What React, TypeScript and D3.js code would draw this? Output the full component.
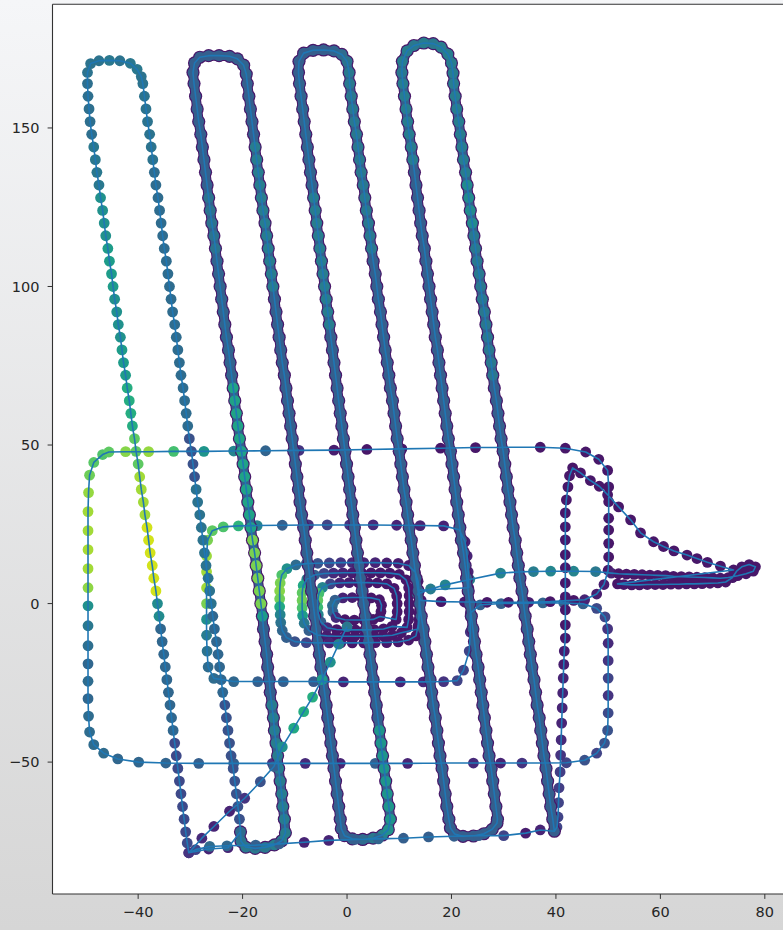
import React from "react";
import * as d3 from "d3";

// ---- data ----

const xTicks = [-40, -20, 0, 20, 40, 60, 80];
const yTicks = [-50, 0, 50, 100, 150];

// y levels at which the lawnmower legs were read
const legLevels = [-68, -64, -60, -56, -52, -48, -44, -40, -36, -32, -28, -24, -20, -16, -12, -8, -4, 0,
  4, 8, 12, 16, 20, 24, 28, 32, 36, 40, 44, 48, 52, 56, 60, 64, 68, 72, 76, 80, 84, 88, 92, 96, 100,
  104, 108, 112, 116, 120, 124, 128, 132, 136, 140, 144, 148, 152, 156, 160, 164];

const leg1X = [-31.2, -31.5, -31.8, -32.1, -32.4, -32.7, -33.0, -33.3, -33.6, -33.9, -34.2, -34.5, -34.8, -35.1, -35.4, -35.7, -36.0, -36.3,
  -36.6, -37.0, -37.3, -37.7, -38.0, -38.3, -38.7, -39.0, -39.4, -39.7, -40.0, -40.4, -40.7, -41.1, -41.4, -41.7, -42.1, -42.4, -42.8, -43.1,
  -43.4, -43.8, -44.1, -44.5, -44.8, -45.1, -45.5, -45.8, -46.2, -46.5, -46.8, -47.2, -47.5, -47.9, -48.2, -48.5, -48.9, -49.2, -49.4, -49.6, -49.7];
const leg2X = [-20.6, -20.9, -21.2, -21.5, -21.8, -22.2, -22.5, -22.8, -23.1, -23.4, -23.8, -24.1, -24.4, -24.7, -25.0, -25.4, -25.7, -26.0,
  -26.3, -26.6, -27.0, -27.3, -27.6, -27.9, -28.2, -28.6, -28.9, -29.2, -29.5, -29.8, -30.2, -30.5, -30.8, -31.1, -31.4, -31.8, -32.1, -32.4,
  -32.7, -33.0, -33.4, -33.7, -34.0, -34.3, -34.6, -35.0, -35.3, -35.6, -35.9, -36.2, -36.6, -36.9, -37.2, -37.5, -37.8, -38.2, -38.5, -38.8, -39.1];
const leg3X = [-12.0, -12.3, -12.5, -12.8, -13.1, -13.3, -13.6, -13.9, -14.1, -14.4, -14.7, -14.9, -15.2, -15.4, -15.7, -16.0, -16.2, -16.5,
  -16.8, -17.1, -17.4, -17.7, -18.1, -18.4, -18.7, -19.0, -19.3, -19.6, -19.9, -20.2, -20.6, -20.9, -21.2, -21.5, -21.8, -22.1, -22.4, -22.7,
  -23.1, -23.4, -23.7, -24.0, -24.3, -24.6, -24.9, -25.2, -25.5, -25.9, -26.2, -26.5, -26.8, -27.1, -27.4, -27.7, -28.0, -28.4, -28.7, -29.0, -29.3];
const leg4X = [-1.3, -1.6, -1.9, -2.2, -2.5, -2.8, -3.1, -3.4, -3.7, -4.0, -4.3, -4.6, -5.0, -5.3, -5.6, -5.9, -6.2, -6.5,
  -6.8, -7.1, -7.4, -7.7, -8.0, -8.3, -8.7, -9.0, -9.3, -9.6, -9.9, -10.2, -10.5, -10.8, -11.1, -11.4, -11.7, -12.0, -12.4, -12.7,
  -13.0, -13.3, -13.6, -13.9, -14.2, -14.5, -14.8, -15.1, -15.4, -15.7, -16.1, -16.4, -16.7, -17.0, -17.3, -17.6, -17.9, -18.2, -18.5, -18.8, -19.1];
const leg5X = [8.3, 8.0, 7.7, 7.4, 7.1, 6.8, 6.5, 6.2, 5.9, 5.6, 5.3, 5.0, 4.7, 4.4, 4.1, 3.8, 3.5, 3.2,
  2.9, 2.6, 2.3, 2.0, 1.7, 1.4, 1.1, 0.8, 0.5, 0.2, -0.1, -0.4, -0.7, -1.0, -1.3, -1.6, -1.9, -2.2, -2.5, -2.8,
  -3.1, -3.4, -3.7, -4.0, -4.3, -4.6, -4.9, -5.2, -5.5, -5.8, -6.1, -6.4, -6.7, -7.0, -7.3, -7.6, -7.9, -8.2, -8.5, -8.8, -9.1];
const leg6X = [19.5, 19.1, 18.8, 18.5, 18.2, 17.8, 17.5, 17.2, 16.9, 16.5, 16.2, 15.9, 15.5, 15.2, 14.9, 14.6, 14.2, 13.9,
  13.6, 13.2, 12.9, 12.6, 12.3, 11.9, 11.6, 11.3, 10.9, 10.6, 10.3, 10.0, 9.6, 9.3, 9.0, 8.7, 8.3, 8.0, 7.7, 7.3,
  7.0, 6.7, 6.4, 6.0, 5.7, 5.4, 5.0, 4.7, 4.4, 4.1, 3.7, 3.4, 3.1, 2.7, 2.4, 2.1, 1.8, 1.4, 1.1, 0.8, 0.5];
const leg7X = [28.8, 28.5, 28.2, 27.9, 27.6, 27.2, 26.9, 26.6, 26.3, 26.0, 25.7, 25.4, 25.1, 24.7, 24.4, 24.1, 23.8, 23.5,
  23.2, 22.9, 22.6, 22.3, 21.9, 21.6, 21.3, 21.0, 20.7, 20.4, 20.1, 19.8, 19.4, 19.1, 18.8, 18.5, 18.2, 17.9, 17.6, 17.3,
  16.9, 16.6, 16.3, 16.0, 15.7, 15.4, 15.1, 14.8, 14.4, 14.1, 13.8, 13.5, 13.2, 12.9, 12.6, 12.3, 11.9, 11.6, 11.3, 11.0, 10.7];
const leg8X = [39.4, 39.0, 38.7, 38.4, 38.1, 37.7, 37.4, 37.1, 36.8, 36.4, 36.1, 35.8, 35.4, 35.1, 34.8, 34.5, 34.1, 33.8,
  33.5, 33.1, 32.8, 32.5, 32.2, 31.8, 31.5, 31.2, 30.8, 30.5, 30.2, 29.9, 29.5, 29.2, 28.9, 28.6, 28.2, 27.9, 27.6, 27.2,
  26.9, 26.6, 26.3, 25.9, 25.6, 25.3, 24.9, 24.6, 24.3, 24.0, 23.6, 23.3, 23.0, 22.7, 22.3, 22.0, 21.7, 21.4, 21.0, 20.7, 20.4];

// colour value of each leg, by the y from which it holds
const leg1Zones = [[-90, 0.22], [-42, 0.33], [-6, 0.48], [2, 0.93], [28, 0.86], [44, 0.75], [56, 0.62], [72, 0.55], [84, 0.5], [100, 0.55], [116, 0.5], [132, 0.4], [148, 0.36]];
const leg2Zones = [[-90, 0.25], [-30, 0.33], [0, 0.38], [40, 0.25], [56, 0.35], [140, 0.38]];
const leg3Zones = [[-90, 0.42], [-30, 0.3], [-4, 0.55], [0, 0.8], [22, 0.58], [70, 0.32], [110, 0.38], [130, 0.3]];
const leg4Zones = [[-90, 0.3], [100, 0.42], [145, 0.3]];
const leg5Zones = [[-90, 0.52], [-38, 0.3], [85, 0.42], [130, 0.32]];
const leg6Zones = [[-90, 0.3], [110, 0.4]];
const leg7Zones = [[-90, 0.3], [140, 0.42]];
const leg8Zones = [[-90, 0.3], [70, 0.4], [120, 0.48], [135, 0.42]];
const darkPassC = 0.06;

const leg1Foot = [[-30.6, -75.5], [-30.9, -72]];
const leg8Foot = [[39.7, -71.8]];

const u1Top = [[-49.7, 167.5, 0.38], [-49.1, 170.3, 0.38], [-47.5, 171.2, 0.38], [-45.5, 171.3, 0.4], [-43.5, 171.2, 0.38], [-41.5, 170.4, 0.4], [-40.2, 168.5, 0.4], [-39.4, 166.2, 0.38]];
const u2Top = [[-29.5, 167.5, 0.3], [-29.2, 170.5, 0.3], [-28.2, 172.3, 0.3], [-26.5, 172.8, 0.3], [-24.5, 172.8, 0.3], [-22.5, 172.6, 0.3], [-21, 171.8, 0.3], [-19.8, 169.8, 0.32], [-19.3, 167, 0.32]];
const u3Top = [[-9.3, 167.5, 0.3], [-9.2, 171, 0.3], [-8.3, 173.6, 0.3], [-6.5, 174.5, 0.3], [-4.5, 174.6, 0.3], [-2.5, 174.3, 0.32], [-1, 173.2, 0.35], [0, 171, 0.38], [0.4, 167.5, 0.4]];
const u4Top = [[10.5, 167.5, 0.4], [10.6, 171, 0.42], [11.5, 174.3, 0.42], [12.8, 176, 0.4], [14.7, 176.8, 0.42], [16.5, 176.6, 0.4], [18, 175.5, 0.42], [19.3, 173.3, 0.42], [20, 170.5, 0.42], [20.3, 167.3, 0.42]];
const b23 = [[-20.4, -72, 0.35], [-20.3, -75, 0.38], [-19.4, -76.8, 0.4], [-17.6, -77.2, 0.4], [-15.7, -76.9, 0.4], [-13.9, -76.1, 0.42], [-12.5, -74.8, 0.42], [-11.8, -72.3, 0.42]];
const b45 = [[-1.1, -71, 0.3], [-0.5, -73.2, 0.32], [1, -74.2, 0.32], [3, -74.4, 0.35], [5, -74, 0.4], [6.8, -73, 0.45], [7.9, -71.3, 0.5]];
const b67 = [[19.8, -70.8, 0.3], [20.6, -72.7, 0.3], [22.2, -73.4, 0.3], [24.2, -73.3, 0.3], [26.2, -72.6, 0.3], [27.8, -71.2, 0.3], [28.7, -69.3, 0.3]];

// small loops round the centre
const loop0 = [[6.5, -2.5, 0.06], [6.6, -0.5, 0.06], [6.2, 1.2, 0.06], [4.6, 1.8, 0.06], [2.8, 1.9, 0.06], [1, 1.9, 0.08], [-0.8, 1.8, 0.1], [-2.3, 1.1, 0.3], [-2.8, -0.6, 0.35],
  [-2.7, -2.6, 0.3], [-2.1, -4.4, 0.12], [-0.4, -5.1, 0.06], [1.4, -5.2, 0.06], [3.2, -5.2, 0.06], [5, -5, 0.06], [6.3, -4.1, 0.06]];
const loop1 = [[9.4, -5, 0.06], [9.6, -2.6, 0.06], [9.6, 0, 0.06], [9.5, 2.5, 0.06], [9, 4.8, 0.06], [7.6, 6.2, 0.06], [5.8, 6.5, 0.06], [4, 6.6, 0.06], [2.2, 6.6, 0.06], [0.4, 6.6, 0.08],
  [-1.4, 6.5, 0.1], [-3.2, 6.2, 0.2], [-4.7, 5.1, 0.45], [-5.4, 3.2, 0.7], [-5.6, 1, 0.75], [-5.6, -1.2, 0.68], [-5.5, -3.5, 0.45], [-5, -5.8, 0.3], [-3.8, -7.6, 0.12], [-2, -8.2, 0.06],
  [-0.2, -8.3, 0.06], [1.6, -8.3, 0.06], [3.4, -8.3, 0.06], [5.2, -8.2, 0.06], [7, -8, 0.06], [8.6, -7.2, 0.06]];
const loop2 = [[11.5, -7.5, 0.06], [11.8, -5, 0.06], [11.9, -2.5, 0.06], [11.9, 0, 0.06], [11.9, 2.5, 0.06], [11.8, 5, 0.06], [11.3, 7.5, 0.06], [10, 9.2, 0.06], [8.2, 9.6, 0.06], [6.4, 9.7, 0.06],
  [4.6, 9.7, 0.06], [2.8, 9.7, 0.06], [1, 9.7, 0.08], [-0.8, 9.7, 0.1], [-2.6, 9.6, 0.12], [-4.4, 9.5, 0.2], [-6.2, 9, 0.3], [-7.7, 7.7, 0.45], [-8.4, 5.7, 0.6], [-8.6, 3.4, 0.75],
  [-8.6, 1, 0.78], [-8.6, -1.4, 0.72], [-8.5, -3.8, 0.55], [-8.2, -6.2, 0.4], [-7.3, -8.5, 0.3], [-5.7, -9.9, 0.15], [-3.9, -10.2, 0.08], [-2.1, -10.3, 0.06], [-0.3, -10.3, 0.06], [1.5, -10.3, 0.06],
  [3.3, -10.3, 0.06], [5.1, -10.3, 0.06], [6.9, -10.2, 0.06], [8.7, -10, 0.06], [10.4, -9.2, 0.06]];
const r3Loop = [[13.6, -8, 0.06], [13.8, -5, 0.06], [13.9, -2, 0.06], [13.9, 1, 0.06], [13.8, 4, 0.06], [13.6, 7, 0.06], [13.1, 9.8, 0.06], [11.8, 12, 0.08], [9.8, 12.7, 0.08], [7.6, 12.8, 0.08],
  [5.4, 12.9, 0.1], [3.2, 12.9, 0.1], [1, 12.9, 0.12], [-1.2, 12.9, 0.15], [-3.4, 12.8, 0.2], [-5.6, 12.7, 0.25], [-7.8, 12.6, 0.3], [-9.8, 12.2, 0.35], [-11.5, 11, 0.5], [-12.5, 9, 0.72],
  [-12.8, 6.5, 0.8], [-12.9, 4, 0.82], [-12.9, 1.5, 0.78], [-12.9, -1, 0.6], [-12.8, -3.5, 0.45], [-12.7, -6, 0.38], [-12.4, -8.5, 0.33], [-11.6, -10.7, 0.3], [-10, -12, 0.25], [-7.8, -12.3, 0.2],
  [-5.6, -12.4, 0.15], [-3.4, -12.4, 0.1], [-1.2, -12.4, 0.08], [1, -12.4, 0.06], [3.2, -12.4, 0.06], [5.4, -12.3, 0.06], [7.6, -12.3, 0.06], [9.8, -12.1, 0.06], [11.8, -11.5, 0.06], [13.2, -10.2, 0.06],
  [13.6, -7, 0.06], [13.8, -3, 0.06], [13.8, 1, 0.06], [13.7, 4.2, 0.06]];
const r2Loop = [[23.3, 5, 0.1], [23.2, 10, 0.1], [23, 15, 0.1], [22.6, 19.5, 0.1], [21.5, 23.3, 0.1],
  [18.5, 24.5, 0.1], [14, 24.6, 0.1], [9.5, 24.7, 0.1], [5, 24.8, 0.12], [0.5, 24.8, 0.15], [-3.8, 24.8, 0.2], [-7.4, 24.8, 0.15], [-12.4, 24.7, 0.3], [-17.2, 24.6, 0.45], [-20.8, 24.5, 0.65], [-23.7, 24.2, 0.72], [-25.8, 23, 0.75],
  [-26.7, 20, 0.8], [-26.9, 15, 0.85], [-26.9, 10, 0.86], [-26.9, 5, 0.86], [-26.9, 0, 0.8], [-26.9, -5, 0.5], [-26.9, -10, 0.42], [-26.8, -15, 0.38], [-26.6, -20, 0.35], [-25.5, -23.6, 0.35],
  [-21.7, -24.6, 0.33], [-17.1, -24.6, 0.3], [-12.2, -24.6, 0.3], [-6.4, -24.6, 0.28], [-0.7, -24.7, 0.1], [4.8, -24.7, 0.1], [10.2, -24.7, 0.1], [14.6, -24.7, 0.12], [18.5, -24.6, 0.15], [21.1, -24.3, 0.2],
  [22.3, -21, 0.2], [23.4, -15, 0.2], [23.6, -9, 0.15], [23.6, -3, 0.15]];
const zeroOut = [[25.5, -0.4, 0.3], [29.5, 0, 0.3], [33.5, 0.1, 0.3], [37.5, 0.2, 0.32], [41.5, 0.2, 0.3], [45.2, -0.1, 0.3], [47.8, -1.5, 0.22], [49.4, -4.2, 0.2]];
const r1Loop = [
  [49.9, -8, 0.15], [50, -12.5, 0.12], [50, -18, 0.15], [50, -23.5, 0.2], [50, -29, 0.15], [50, -34.5, 0.22], [49.9, -40, 0.25], [49.3, -44, 0.25], [47.8, -47.2, 0.2], [45.5, -49.4, 0.25],
  [42, -50.2, 0.2], [38, -50.3, 0.1], [33.5, -50.3, 0.15], [29.4, -50.3, 0.1], [24.2, -50.3, 0.12], [17.9, -50.3, 0.25], [11.6, -50.4, 0.1], [5.4, -50.4, 0.3], [-1.3, -50.4, 0.1], [-8, -50.4, 0.12],
  [-14.3, -50.4, 0.15], [-21.7, -50.4, 0.3], [-28.4, -50.4, 0.3], [-34.7, -50.3, 0.32], [-39.9, -50, 0.33], [-43.9, -49, 0.33], [-46.6, -47.2, 0.35], [-48.5, -44.5, 0.35],
  [-49.3, -40.5, 0.35], [-49.5, -35.5, 0.35], [-49.6, -30, 0.33], [-49.6, -24.5, 0.35], [-49.6, -19, 0.33], [-49.6, -13.3, 0.36], [-49.6, -7, 0.4], [-49.6, -0.7, 0.5], [-49.6, 5, 0.83],
  [-49.6, 11, 0.86], [-49.6, 17, 0.87], [-49.6, 23, 0.86], [-49.6, 29, 0.86], [-49.5, 35, 0.84], [-49.3, 40.5, 0.78], [-48.5, 44.5, 0.74], [-46.8, 47, 0.72],
  [-45.6, 47.8, 0.75], [-42.4, 47.9, 0.82], [-38, 47.9, 0.84], [-33.2, 48, 0.7], [-27.4, 48, 0.52], [-21.7, 48.1, 0.45], [-15.6, 48.2, 0.32], [-9.2, 48.3, 0.15], [-2.5, 48.4, 0.08],
  [3.8, 48.6, 0.06], [10.5, 48.8, 0.06], [17.9, 49, 0.06], [24.6, 49.2, 0.06], [29.7, 49.3, 0.06], [37, 49.3, 0.06], [41.8, 49, 0.06], [45.7, 47.8, 0.06], [48.2, 45.5, 0.06],
  [49.9, 42, 0.06], [50.1, 36.8, 0.06], [50.1, 32.1, 0.06], [50.1, 26.9, 0.06], [50.1, 23.2, 0.06], [50.1, 19, 0.06], [50.1, 14.7, 0.06], [50, 10.5, 0.06], [49.2, 6, 0.08], [47.8, 3, 0.08], [45.5, 1.2, 0.1],
];
const zeroBack = [[43.4, 1, 0.06], [38.9, 0.6, 0.06], [34.8, 0.4, 0.08], [30.9, 0.4, 0.06], [26.8, 0.4, 0.06], [22.5, 0.5, 0.08], [18, 0.6, 0.06], [14.2, 1, 0.06]];
const tealLine = [[13.5, 3, 0.45], [16, 4.6, 0.42], [18.8, 5.9, 0.45], [23.5, 7.6, 0.42], [29.4, 9.6, 0.45], [33, 10, 0.4], [35.7, 10.1, 0.42], [39, 10.2, 0.46], [43.4, 10.2, 0.45], [47.6, 10.1, 0.4], [50.6, 9.6, 0.1]];
const tailOut = [[52, 9.4, 0.06], [53.5, 9.3, 0.06], [55, 9.2, 0.06], [56.5, 9.1, 0.06], [58, 9, 0.06], [59.5, 8.9, 0.06], [61, 8.8, 0.06], [62.5, 8.6, 0.06], [64, 8.5, 0.06], [65.5, 8.4, 0.06],
  [67, 8.3, 0.06], [68.5, 8.2, 0.06], [70, 8.1, 0.06], [71.5, 8, 0.06], [73, 8.2, 0.06], [74.8, 8.8, 0.06], [76.4, 9.4, 0.06], [77.8, 10.2, 0.06], [78.2, 11.6, 0.06], [77, 12.3, 0.06],
  [75.6, 11.6, 0.06], [74.6, 10.2, 0.06], [73.8, 8.2, 0.06], [72.5, 6.8, 0.06]];
const tailBack = [[71, 6.5, 0.06], [69.5, 6.4, 0.06], [68, 6.3, 0.06], [66.5, 6.2, 0.06], [65, 6.2, 0.06], [63.5, 6.1, 0.06], [62, 6.1, 0.06], [60.5, 6, 0.06], [59, 6, 0.06], [57.5, 6, 0.06],
  [56, 5.9, 0.06], [54.5, 5.9, 0.06], [53, 6, 0.06], [51.8, 6.2, 0.06]];
const upperCurve = [[74, 10.6, 0.06], [71.5, 11.8, 0.06], [69, 13, 0.06], [67, 14.2, 0.06], [65.1, 15.3, 0.06], [62.6, 16.6, 0.06], [60.6, 18, 0.06], [58.7, 19.5, 0.06], [56.2, 22.3, 0.06],
  [54.3, 26.4, 0.06], [52, 30.5, 0.06], [49.9, 34.3, 0.06], [48.3, 37, 0.06], [46.6, 38.8, 0.06], [44.7, 41.2, 0.06], [43.2, 42.8, 0.06]];
const vertical = [[42.6, 40.3, 0.06], [42.3, 36.8, 0.06], [42, 32.7, 0.06], [41.8, 28.6, 0.06], [41.8, 24.2, 0.06], [41.8, 20.1, 0.06], [41.8, 15.4, 0.06], [41.8, 11.3, 0.06], [41.8, 6.5, 0.06],
  [41.8, 2.1, 0.06], [41.8, -2, 0.06], [41.8, -6.7, 0.06], [41.8, -10.9, 0.06], [41.6, -15, 0.08], [41.5, -19.2, 0.08], [41.4, -23.5, 0.1], [41.3, -28.2, 0.1], [41.2, -32.9, 0.1], [41.1, -37.7, 0.1],
  [41, -43, 0.12], [40.9, -47.8, 0.15], [40.8, -53.1, 0.18], [40.6, -58.1, 0.18], [40.5, -62.8, 0.2], [40.4, -67.3, 0.2], [40.2, -70.5, 0.2]];
const darkToV = [[-22.8, -77, 0.1], [-26.5, -77.4, 0.1], [-30.3, -78.6, 0.12]];
const bottomLine = [[37, -71.4, 0.1], [34.2, -72.4, 0.08], [30, -73.2, 0.2], [25.2, -73.2, 0.3], [20.5, -73.4, 0.3], [15.6, -73.6, 0.3], [10.8, -74, 0.3], [6, -74.2, 0.32], [1.5, -74.4, 0.3],
  [-3.5, -74.7, 0.1], [-8.2, -75.3, 0.1], [-13, -75.8, 0.3], [-17.5, -76.2, 0.3], [-23, -76.4, 0.33], [-26.3, -76.6, 0.35], [-29, -77.6, 0.2], [-30.3, -78.6, 0.15]];
const diagonal = [[-27.8, -74, 0.12], [-25.5, -70.3, 0.1], [-22.5, -65.5, 0.1], [-19.6, -61.4, 0.15], [-16.6, -56.2, 0.25], [-14, -51.4, 0.3], [-12.4, -45.2, 0.5], [-10.2, -39.3, 0.6],
  [-8.3, -34.1, 0.62], [-6.6, -29.5, 0.62], [-4.8, -24, 0.55], [-3.2, -18.5, 0.5], [-1.6, -12.8, 0.45], [0, -7.3, 0.4]];

// ---- building the track ----

type Pt = { x: number; y: number; c: number };

const zoneC = (zones: number[][], yv: number) => {
  let c = zones[0][1];
  for (const [from, v] of zones) if (yv >= from) c = v;
  return c;
};
const tri = (a: number[][]): Pt[] => a.map(([x, y, c]) => ({ x, y, c }));
const foot = (a: number[][], zones: number[][]): Pt[] => a.map(([x, y]) => ({ x, y, c: zoneC(zones, y) }));
const leg = (xs: number[], zones: number[][]): Pt[] =>
  legLevels.slice(0, xs.length).map((ly, i) => ({ x: xs[i], y: ly, c: zoneC(zones, ly) }));
const rev = (a: Pt[]) => [...a].reverse();

const L1 = leg(leg1X, leg1Zones), L2 = leg(leg2X, leg2Zones), L3 = leg(leg3X, leg3Zones), L4 = leg(leg4X, leg4Zones);
const L5 = leg(leg5X, leg5Zones), L6 = leg(leg6X, leg6Zones), L7 = leg(leg7X, leg7Zones), L8 = leg(leg8X, leg8Zones);

const before: Pt[] = [loop0, loop1, loop2, r3Loop, r2Loop, zeroOut, r1Loop, zeroBack, tealLine, tailOut, tailBack, upperCurve, vertical].flatMap(tri);

const darkPass: Pt[] = [
  ...foot(leg8Foot, leg8Zones), ...L8, ...rev(tri(u4Top)), ...rev(L7), ...rev(tri(b67)), ...L6, ...rev(tri(u3Top)),
  ...rev(L5), ...rev(tri(b45)), ...L4, ...rev(tri(u2Top)), ...rev(L3), ...rev(tri(b23)),
].map((p) => ({ ...p, c: darkPassC }));

const sparsePass: Pt[] = [...tri(darkToV), ...foot(leg1Foot, leg1Zones), ...L1, ...tri(u1Top), ...rev(L2)];
const densePass: Pt[] = [
  ...tri(b23), ...L3, ...tri(u2Top), ...rev(L4), ...tri(b45), ...L5, ...tri(u3Top), ...rev(L6), ...tri(b67),
  ...L7, ...tri(u4Top), ...rev(L8), ...foot(leg8Foot, leg8Zones),
];
const after: Pt[] = [...sparsePass, ...densePass, ...tri(bottomLine), ...tri(diagonal)];
const track: Pt[] = [...before, ...darkPass, ...after];

// ---- chart ----

const W = 783, H = 930;
const left = 52.5, top = 4.3, bottom = 894, right = 787.8;
const x = d3.scaleLinear().domain([-56.4, 84.4]).range([left, right]);
const y = d3.scaleLinear().domain([-91.6, 189]).range([bottom, top]);
const line = d3.line<Pt>().x((d) => x(d.x)).y((d) => y(d.y));
const col = (c: number) => d3.interpolateViridis(c);
const fmt = (v: number) => String(v).replace("-", "\u2212");

const Dots = ({ pts, r }: { pts: Pt[]; r: number }) => (
  <g>
    {pts.map((p, i) => (
      <circle key={i} cx={x(p.x)} cy={y(p.y)} r={r} fill={col(p.c)} />
    ))}
  </g>
);

export default function App() {
  const font = "'DejaVu Sans', sans-serif";
  return (
    <svg width={W} height={H} style={{ position: "absolute", left: 0, top: 0 }}>
      <defs>
        <linearGradient id="bg" x1="0" y1="0" x2="0" y2="1">
          <stop offset="0" stopColor="#f5f6f8" />
          <stop offset="1" stopColor="#d6d6d6" />
        </linearGradient>
        <clipPath id="plot">
          <rect x={left} y={top} width={right - left} height={bottom - top} />
        </clipPath>
      </defs>
      <rect width={W} height={H} fill="url(#bg)" />
      <rect x={left} y={top} width={right - left} height={bottom - top} fill="#fff" />

      <g clipPath="url(#plot)">
        <Dots pts={before} r={5.4} />
        <path d={line(darkPass) ?? ""} fill="none" stroke={col(darkPassC)} strokeWidth={10} strokeLinejoin="round" strokeLinecap="round" />
        <Dots pts={darkPass} r={6.6} />
        <path d={line(densePass) ?? ""} fill="none" stroke={col(0.3)} strokeWidth={8} strokeLinejoin="round" strokeLinecap="round" />
        <Dots pts={after} r={5.4} />
        <path d={line(track) ?? ""} fill="none" stroke="#1f77b4" strokeWidth={1.6} strokeLinejoin="round" />
      </g>

      <g stroke="#333" strokeWidth={1.1} fill="none">
        <line x1={left} x2={left} y1={top} y2={bottom} />
        <line x1={left} x2={W} y1={bottom} y2={bottom} />
        <line x1={left} x2={W} y1={top} y2={top} />
        <line x1={right} x2={right} y1={top} y2={bottom} />
      </g>

      {xTicks.map((t) => (
        <g key={t} transform={`translate(${x(t)},${bottom})`}>
          <line y2={4.9} stroke="#333" strokeWidth={1} />
          <text y={22.8} textAnchor="middle" fontFamily={font} fontSize={14.5} fill="#262626">{fmt(t)}</text>
        </g>
      ))}
      {yTicks.map((t) => (
        <g key={t} transform={`translate(${left},${y(t)})`}>
          <line x2={-4.9} stroke="#333" strokeWidth={1} />
          <text x={-13} dy="0.36em" textAnchor="end" fontFamily={font} fontSize={14.5} fill="#262626">{fmt(t)}</text>
        </g>
      ))}
    </svg>
  );
}
